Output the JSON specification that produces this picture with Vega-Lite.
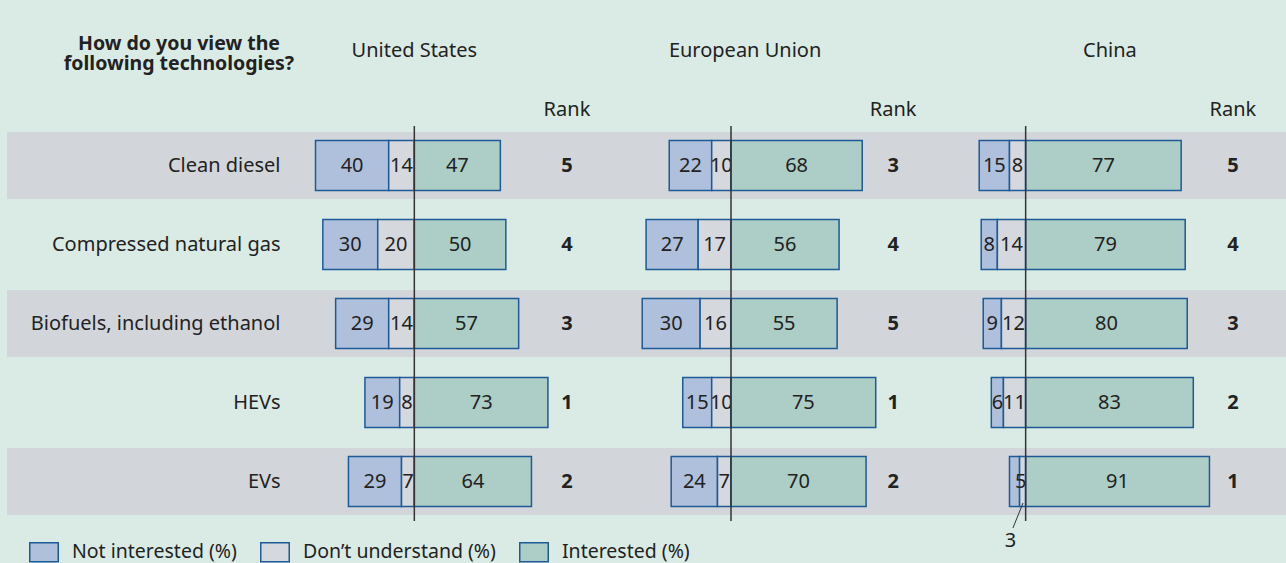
{
  "$schema": "https://vega.github.io/schema/vega-lite/v6.json",
  "width": 1286,
  "height": 563,
  "padding": 0,
  "autosize": {"type": "none"},
  "background": "#daebe5",
  "config": {
    "view": {"stroke": null},
    "font": "Noto Sans",
    "text": {"fontSize": 20, "color": "#222222", "font": "Noto Sans"}
  },
  "datasets": {
    "survey": [
      {"region": "United States", "tech": "Clean diesel", "category": "Not interested (%)", "value": 40},
      {"region": "United States", "tech": "Clean diesel", "category": "Don’t understand (%)", "value": 14},
      {"region": "United States", "tech": "Clean diesel", "category": "Interested (%)", "value": 47},
      {"region": "United States", "tech": "Compressed natural gas", "category": "Not interested (%)", "value": 30},
      {"region": "United States", "tech": "Compressed natural gas", "category": "Don’t understand (%)", "value": 20},
      {"region": "United States", "tech": "Compressed natural gas", "category": "Interested (%)", "value": 50},
      {"region": "United States", "tech": "Biofuels, including ethanol", "category": "Not interested (%)", "value": 29},
      {"region": "United States", "tech": "Biofuels, including ethanol", "category": "Don’t understand (%)", "value": 14},
      {"region": "United States", "tech": "Biofuels, including ethanol", "category": "Interested (%)", "value": 57},
      {"region": "United States", "tech": "HEVs", "category": "Not interested (%)", "value": 19},
      {"region": "United States", "tech": "HEVs", "category": "Don’t understand (%)", "value": 8},
      {"region": "United States", "tech": "HEVs", "category": "Interested (%)", "value": 73},
      {"region": "United States", "tech": "EVs", "category": "Not interested (%)", "value": 29},
      {"region": "United States", "tech": "EVs", "category": "Don’t understand (%)", "value": 7},
      {"region": "United States", "tech": "EVs", "category": "Interested (%)", "value": 64},
      {"region": "European Union", "tech": "Clean diesel", "category": "Not interested (%)", "value": 22},
      {"region": "European Union", "tech": "Clean diesel", "category": "Don’t understand (%)", "value": 10},
      {"region": "European Union", "tech": "Clean diesel", "category": "Interested (%)", "value": 68},
      {"region": "European Union", "tech": "Compressed natural gas", "category": "Not interested (%)", "value": 27},
      {"region": "European Union", "tech": "Compressed natural gas", "category": "Don’t understand (%)", "value": 17},
      {"region": "European Union", "tech": "Compressed natural gas", "category": "Interested (%)", "value": 56},
      {"region": "European Union", "tech": "Biofuels, including ethanol", "category": "Not interested (%)", "value": 30},
      {"region": "European Union", "tech": "Biofuels, including ethanol", "category": "Don’t understand (%)", "value": 16},
      {"region": "European Union", "tech": "Biofuels, including ethanol", "category": "Interested (%)", "value": 55},
      {"region": "European Union", "tech": "HEVs", "category": "Not interested (%)", "value": 15},
      {"region": "European Union", "tech": "HEVs", "category": "Don’t understand (%)", "value": 10},
      {"region": "European Union", "tech": "HEVs", "category": "Interested (%)", "value": 75},
      {"region": "European Union", "tech": "EVs", "category": "Not interested (%)", "value": 24},
      {"region": "European Union", "tech": "EVs", "category": "Don’t understand (%)", "value": 7},
      {"region": "European Union", "tech": "EVs", "category": "Interested (%)", "value": 70},
      {"region": "China", "tech": "Clean diesel", "category": "Not interested (%)", "value": 15},
      {"region": "China", "tech": "Clean diesel", "category": "Don’t understand (%)", "value": 8},
      {"region": "China", "tech": "Clean diesel", "category": "Interested (%)", "value": 77},
      {"region": "China", "tech": "Compressed natural gas", "category": "Not interested (%)", "value": 8},
      {"region": "China", "tech": "Compressed natural gas", "category": "Don’t understand (%)", "value": 14},
      {"region": "China", "tech": "Compressed natural gas", "category": "Interested (%)", "value": 79},
      {"region": "China", "tech": "Biofuels, including ethanol", "category": "Not interested (%)", "value": 9},
      {"region": "China", "tech": "Biofuels, including ethanol", "category": "Don’t understand (%)", "value": 12},
      {"region": "China", "tech": "Biofuels, including ethanol", "category": "Interested (%)", "value": 80},
      {"region": "China", "tech": "HEVs", "category": "Not interested (%)", "value": 6},
      {"region": "China", "tech": "HEVs", "category": "Don’t understand (%)", "value": 11},
      {"region": "China", "tech": "HEVs", "category": "Interested (%)", "value": 83},
      {"region": "China", "tech": "EVs", "category": "Not interested (%)", "value": 5},
      {"region": "China", "tech": "EVs", "category": "Don’t understand (%)", "value": 3},
      {"region": "China", "tech": "EVs", "category": "Interested (%)", "value": 91}
    ],
    "ranks": [
      {"region": "United States", "tech": "Clean diesel", "rank": 5},
      {"region": "United States", "tech": "Compressed natural gas", "rank": 4},
      {"region": "United States", "tech": "Biofuels, including ethanol", "rank": 3},
      {"region": "United States", "tech": "HEVs", "rank": 1},
      {"region": "United States", "tech": "EVs", "rank": 2},
      {"region": "European Union", "tech": "Clean diesel", "rank": 3},
      {"region": "European Union", "tech": "Compressed natural gas", "rank": 4},
      {"region": "European Union", "tech": "Biofuels, including ethanol", "rank": 5},
      {"region": "European Union", "tech": "HEVs", "rank": 1},
      {"region": "European Union", "tech": "EVs", "rank": 2},
      {"region": "China", "tech": "Clean diesel", "rank": 5},
      {"region": "China", "tech": "Compressed natural gas", "rank": 4},
      {"region": "China", "tech": "Biofuels, including ethanol", "rank": 3},
      {"region": "China", "tech": "HEVs", "rank": 2},
      {"region": "China", "tech": "EVs", "rank": 1}
    ]
  },
  "data": {"name": "survey"},
  "encoding": {
    "y": {
      "field": "tech",
      "type": "nominal",
      "scale": {
        "domain": ["Clean diesel", "Compressed natural gas", "Biofuels, including ethanol", "HEVs", "EVs"],
        "range": [126, 521],
        "paddingInner": 0,
        "paddingOuter": 0
      },
      "axis": {
        "orient": "left",
        "offset": -280,
        "domain": false,
        "ticks": false,
        "tickSize": 0,
        "grid": false,
        "labelPadding": 0,
        "title": null,
        "labelFontSize": 20,
        "labelFont": "Noto Sans",
        "labelColor": "#222222",
        "labelLimit": 400,
        "zindex": 2
      }
    }
  },
  "layer": [
    {
      "data": {"name": "ranks"},
      "transform": [
        {"filter": {"field": "region", "equal": "United States"}},
        {"filter": {"field": "tech", "oneOf": ["Clean diesel", "Biofuels, including ethanol", "EVs"]}}
      ],
      "mark": {"type": "rect", "height": {"band": 0.848}, "color": "#d2d6da"},
      "encoding": {"x": {"value": 7}, "x2": {"value": 1286}}
    },
    {
      "data": {"values": [{}]},
      "mark": {"type": "text", "text": ["How do you view the", "following technologies?"], "fontWeight": "bold", "fontSize": 19.5, "lineHeight": 19.5, "align": "center", "baseline": "alphabetic"},
      "encoding": {"x": {"value": 179}, "y": {"value": 50}}
    },

    {
      "layer": [
        {
          "transform": [
            {"filter": {"field": "region", "equal": "United States"}},
            {"filter": {"field": "category", "oneOf": ["Not interested (%)", "Don’t understand (%)"]}}
          ],
          "mark": {"type": "bar", "height": 50, "stroke": "#1e5a96", "strokeWidth": 1.5},
          "encoding": {
            "x": {"field": "value", "type": "quantitative", "stack": "zero", "scale": {"domain": [-476.3, 226.4], "reverse": true, "nice": false, "zero": false}, "axis": null},
            "order": {"field": "category", "sort": "ascending"},
            "color": {"field": "category", "type": "nominal", "scale": {"domain": ["Not interested (%)", "Don’t understand (%)", "Interested (%)"], "range": ["#afc0dc", "#d5d8dc", "#accec6"]},
              "legend": {"orient": "none", "legendX": 29, "legendY": 537, "direction": "horizontal", "title": null, "symbolType": "M-1,-0.667H1V0.667H-1Z", "symbolSize": 812, "symbolStrokeColor": "#1e5a96", "symbolStrokeWidth": 1.5, "symbolOpacity": 1, "labelFontSize": 19.5, "labelFont": "Noto Sans", "labelColor": "#222222", "columnPadding": 20, "labelOffset": 13, "labelLimit": 300}}
          }
        },
        {
          "transform": [
            {"filter": {"field": "region", "equal": "United States"}},
            {"filter": {"field": "category", "oneOf": ["Not interested (%)", "Don’t understand (%)"]}}
          ],
          "mark": {"type": "text", "baseline": "middle"},
          "encoding": {
            "x": {"field": "value", "type": "quantitative", "stack": "zero", "bandPosition": 0.5, "scale": {"domain": [-476.3, 226.4], "reverse": true, "nice": false, "zero": false}, "axis": null},
            "order": {"field": "category", "sort": "ascending"},
            "text": {"field": "value", "type": "quantitative"}
          }
        }
      ]
    },
    {
      "layer": [
        {
          "transform": [
            {"filter": {"field": "region", "equal": "United States"}},
            {"filter": {"field": "category", "equal": "Interested (%)"}}
          ],
          "mark": {"type": "bar", "height": 50, "stroke": "#1e5a96", "strokeWidth": 1.5},
          "encoding": {
            "x": {"field": "value", "type": "quantitative", "scale": {"domain": [-226.4, 476.3], "nice": false, "zero": false}, "axis": null},
            "color": {"field": "category", "type": "nominal", "scale": {"domain": ["Not interested (%)", "Don’t understand (%)", "Interested (%)"], "range": ["#afc0dc", "#d5d8dc", "#accec6"]},
              "legend": {"orient": "none", "legendX": 29, "legendY": 537, "direction": "horizontal", "title": null, "symbolType": "M-1,-0.667H1V0.667H-1Z", "symbolSize": 812, "symbolStrokeColor": "#1e5a96", "symbolStrokeWidth": 1.5, "symbolOpacity": 1, "labelFontSize": 19.5, "labelFont": "Noto Sans", "labelColor": "#222222", "columnPadding": 20, "labelOffset": 13, "labelLimit": 300}}
          }
        },
        {
          "transform": [
            {"filter": {"field": "region", "equal": "United States"}},
            {"filter": {"field": "category", "equal": "Interested (%)"}}
          ],
          "mark": {"type": "text", "baseline": "middle"},
          "encoding": {
            "x": {"field": "value", "type": "quantitative", "stack": "zero", "bandPosition": 0.5, "scale": {"domain": [-226.4, 476.3], "nice": false, "zero": false}, "axis": null},
            "text": {"field": "value", "type": "quantitative"}
          }
        },
        {
          "data": {"name": "ranks"},
          "transform": [{"filter": {"field": "region", "equal": "United States"}}],
          "mark": {"type": "text", "fontWeight": "bold", "baseline": "middle"},
          "encoding": {"x": {"datum": 83.4, "type": "quantitative", "axis": null}, "text": {"field": "rank", "type": "quantitative"}}
        },
        {
          "data": {"values": [{"label": "Rank"}]},
          "mark": {"type": "text", "baseline": "middle"},
          "encoding": {"x": {"datum": 83.4, "type": "quantitative", "axis": null}, "y": {"value": 110}, "text": {"field": "label"}}
        },
        {
          "data": {"values": [{"label": "United States"}]},
          "mark": {"type": "text", "baseline": "middle"},
          "encoding": {"x": {"datum": 0, "type": "quantitative", "axis": null}, "y": {"value": 51}, "text": {"field": "label"}}
        },
        {
          "data": {"values": [{"label": "center"}]},
          "mark": {"type": "rule", "color": "#333333", "strokeWidth": 1.5},
          "encoding": {"x": {"datum": 0, "type": "quantitative", "axis": null}, "y": {"value": 126}, "y2": {"value": 521}}
        }
      ]
    },

    {
      "layer": [
        {
          "transform": [
            {"filter": {"field": "region", "equal": "European Union"}},
            {"filter": {"field": "category", "oneOf": ["Not interested (%)", "Don’t understand (%)"]}}
          ],
          "mark": {"type": "bar", "height": 50, "stroke": "#1e5a96", "strokeWidth": 1.5},
          "encoding": {
            "x": {"field": "value", "type": "quantitative", "stack": "zero", "scale": {"domain": [-287.6, 378.8], "reverse": true, "nice": false, "zero": false}, "axis": null},
            "order": {"field": "category", "sort": "ascending"},
            "color": {"field": "category", "type": "nominal", "scale": {"domain": ["Not interested (%)", "Don’t understand (%)", "Interested (%)"], "range": ["#afc0dc", "#d5d8dc", "#accec6"]},
              "legend": {"orient": "none", "legendX": 29, "legendY": 537, "direction": "horizontal", "title": null, "symbolType": "M-1,-0.667H1V0.667H-1Z", "symbolSize": 812, "symbolStrokeColor": "#1e5a96", "symbolStrokeWidth": 1.5, "symbolOpacity": 1, "labelFontSize": 19.5, "labelFont": "Noto Sans", "labelColor": "#222222", "columnPadding": 20, "labelOffset": 13, "labelLimit": 300}}
          }
        },
        {
          "transform": [
            {"filter": {"field": "region", "equal": "European Union"}},
            {"filter": {"field": "category", "oneOf": ["Not interested (%)", "Don’t understand (%)"]}}
          ],
          "mark": {"type": "text", "baseline": "middle"},
          "encoding": {
            "x": {"field": "value", "type": "quantitative", "stack": "zero", "bandPosition": 0.5, "scale": {"domain": [-287.6, 378.8], "reverse": true, "nice": false, "zero": false}, "axis": null},
            "order": {"field": "category", "sort": "ascending"},
            "text": {"field": "value", "type": "quantitative"}
          }
        }
      ]
    },
    {
      "layer": [
        {
          "transform": [
            {"filter": {"field": "region", "equal": "European Union"}},
            {"filter": {"field": "category", "equal": "Interested (%)"}}
          ],
          "mark": {"type": "bar", "height": 50, "stroke": "#1e5a96", "strokeWidth": 1.5},
          "encoding": {
            "x": {"field": "value", "type": "quantitative", "scale": {"domain": [-378.8, 287.6], "nice": false, "zero": false}, "axis": null},
            "color": {"field": "category", "type": "nominal", "scale": {"domain": ["Not interested (%)", "Don’t understand (%)", "Interested (%)"], "range": ["#afc0dc", "#d5d8dc", "#accec6"]},
              "legend": {"orient": "none", "legendX": 29, "legendY": 537, "direction": "horizontal", "title": null, "symbolType": "M-1,-0.667H1V0.667H-1Z", "symbolSize": 812, "symbolStrokeColor": "#1e5a96", "symbolStrokeWidth": 1.5, "symbolOpacity": 1, "labelFontSize": 19.5, "labelFont": "Noto Sans", "labelColor": "#222222", "columnPadding": 20, "labelOffset": 13, "labelLimit": 300}}
          }
        },
        {
          "transform": [
            {"filter": {"field": "region", "equal": "European Union"}},
            {"filter": {"field": "category", "equal": "Interested (%)"}}
          ],
          "mark": {"type": "text", "baseline": "middle"},
          "encoding": {
            "x": {"field": "value", "type": "quantitative", "stack": "zero", "bandPosition": 0.5, "scale": {"domain": [-378.8, 287.6], "nice": false, "zero": false}, "axis": null},
            "text": {"field": "value", "type": "quantitative"}
          }
        },
        {
          "data": {"name": "ranks"},
          "transform": [{"filter": {"field": "region", "equal": "European Union"}}],
          "mark": {"type": "text", "fontWeight": "bold", "baseline": "middle"},
          "encoding": {"x": {"datum": 84, "type": "quantitative", "axis": null}, "text": {"field": "rank", "type": "quantitative"}}
        },
        {
          "data": {"values": [{"label": "Rank"}]},
          "mark": {"type": "text", "baseline": "middle"},
          "encoding": {"x": {"datum": 84, "type": "quantitative", "axis": null}, "y": {"value": 110}, "text": {"field": "label"}}
        },
        {
          "data": {"values": [{"label": "European Union"}]},
          "mark": {"type": "text", "baseline": "middle"},
          "encoding": {"x": {"datum": 7.3, "type": "quantitative", "axis": null}, "y": {"value": 51}, "text": {"field": "label"}}
        },
        {
          "data": {"values": [{"label": "center"}]},
          "mark": {"type": "rule", "color": "#333333", "strokeWidth": 1.5},
          "encoding": {"x": {"datum": 0, "type": "quantitative", "axis": null}, "y": {"value": 126}, "y2": {"value": 521}}
        }
      ]
    },

    {
      "layer": [
        {
          "transform": [
            {"filter": {"field": "region", "equal": "China"}},
            {"filter": {"field": "category", "oneOf": ["Not interested (%)", "Don’t understand (%)"]}}
          ],
          "mark": {"type": "bar", "height": 50, "stroke": "#1e5a96", "strokeWidth": 1.5},
          "encoding": {
            "x": {"field": "value", "type": "quantitative", "stack": "zero", "scale": {"domain": [-128.9, 507.8], "reverse": true, "nice": false, "zero": false}, "axis": null},
            "order": {"field": "category", "sort": "ascending"},
            "color": {"field": "category", "type": "nominal", "scale": {"domain": ["Not interested (%)", "Don’t understand (%)", "Interested (%)"], "range": ["#afc0dc", "#d5d8dc", "#accec6"]},
              "legend": {"orient": "none", "legendX": 29, "legendY": 537, "direction": "horizontal", "title": null, "symbolType": "M-1,-0.667H1V0.667H-1Z", "symbolSize": 812, "symbolStrokeColor": "#1e5a96", "symbolStrokeWidth": 1.5, "symbolOpacity": 1, "labelFontSize": 19.5, "labelFont": "Noto Sans", "labelColor": "#222222", "columnPadding": 20, "labelOffset": 13, "labelLimit": 300}}
          }
        },
        {
          "transform": [
            {"filter": {"field": "region", "equal": "China"}},
            {"filter": {"field": "category", "oneOf": ["Not interested (%)", "Don’t understand (%)"]}},
            {"filter": {"field": "value", "gt": 3}}
          ],
          "mark": {"type": "text", "baseline": "middle"},
          "encoding": {
            "x": {"field": "value", "type": "quantitative", "stack": "zero", "bandPosition": 0.5, "scale": {"domain": [-128.9, 507.8], "reverse": true, "nice": false, "zero": false}, "axis": null},
            "order": {"field": "category", "sort": "ascending"},
            "text": {"field": "value", "type": "quantitative"}
          }
        },
        {
          "data": {"values": [{"label": "leader"}]},
          "mark": {"type": "rule", "color": "#333333", "strokeWidth": 1},
          "encoding": {"x": {"datum": 1.3, "type": "quantitative", "axis": null}, "x2": {"datum": 6.3}, "y": {"value": 503}, "y2": {"value": 528}}
        },
        {
          "transform": [
            {"filter": {"field": "region", "equal": "China"}},
            {"filter": {"field": "tech", "equal": "EVs"}},
            {"filter": {"field": "category", "equal": "Don’t understand (%)"}}
          ],
          "mark": {"type": "text", "baseline": "middle"},
          "encoding": {"x": {"datum": 7.5, "type": "quantitative", "axis": null}, "y": {"value": 541}, "text": {"field": "value", "type": "quantitative"}}
        }
      ]
    },
    {
      "layer": [
        {
          "transform": [
            {"filter": {"field": "region", "equal": "China"}},
            {"filter": {"field": "category", "equal": "Interested (%)"}}
          ],
          "mark": {"type": "bar", "height": 50, "stroke": "#1e5a96", "strokeWidth": 1.5},
          "encoding": {
            "x": {"field": "value", "type": "quantitative", "scale": {"domain": [-507.8, 128.9], "nice": false, "zero": false}, "axis": null},
            "color": {"field": "category", "type": "nominal", "scale": {"domain": ["Not interested (%)", "Don’t understand (%)", "Interested (%)"], "range": ["#afc0dc", "#d5d8dc", "#accec6"]},
              "legend": {"orient": "none", "legendX": 29, "legendY": 537, "direction": "horizontal", "title": null, "symbolType": "M-1,-0.667H1V0.667H-1Z", "symbolSize": 812, "symbolStrokeColor": "#1e5a96", "symbolStrokeWidth": 1.5, "symbolOpacity": 1, "labelFontSize": 19.5, "labelFont": "Noto Sans", "labelColor": "#222222", "columnPadding": 20, "labelOffset": 13, "labelLimit": 300}}
          }
        },
        {
          "transform": [
            {"filter": {"field": "region", "equal": "China"}},
            {"filter": {"field": "category", "equal": "Interested (%)"}}
          ],
          "mark": {"type": "text", "baseline": "middle"},
          "encoding": {
            "x": {"field": "value", "type": "quantitative", "stack": "zero", "bandPosition": 0.5, "scale": {"domain": [-507.8, 128.9], "nice": false, "zero": false}, "axis": null},
            "text": {"field": "value", "type": "quantitative"}
          }
        },
        {
          "data": {"name": "ranks"},
          "transform": [{"filter": {"field": "region", "equal": "China"}}],
          "mark": {"type": "text", "fontWeight": "bold", "baseline": "middle"},
          "encoding": {"x": {"datum": 102.6, "type": "quantitative", "axis": null}, "text": {"field": "rank", "type": "quantitative"}}
        },
        {
          "data": {"values": [{"label": "Rank"}]},
          "mark": {"type": "text", "baseline": "middle"},
          "encoding": {"x": {"datum": 102.6, "type": "quantitative", "axis": null}, "y": {"value": 110}, "text": {"field": "label"}}
        },
        {
          "data": {"values": [{"label": "China"}]},
          "mark": {"type": "text", "baseline": "middle"},
          "encoding": {"x": {"datum": 41.7, "type": "quantitative", "axis": null}, "y": {"value": 51}, "text": {"field": "label"}}
        },
        {
          "data": {"values": [{"label": "center"}]},
          "mark": {"type": "rule", "color": "#333333", "strokeWidth": 1.5},
          "encoding": {"x": {"datum": 0, "type": "quantitative", "axis": null}, "y": {"value": 126}, "y2": {"value": 521}}
        }
      ]
    }
  ],
  "resolve": {"scale": {"x": "independent"}}
}
